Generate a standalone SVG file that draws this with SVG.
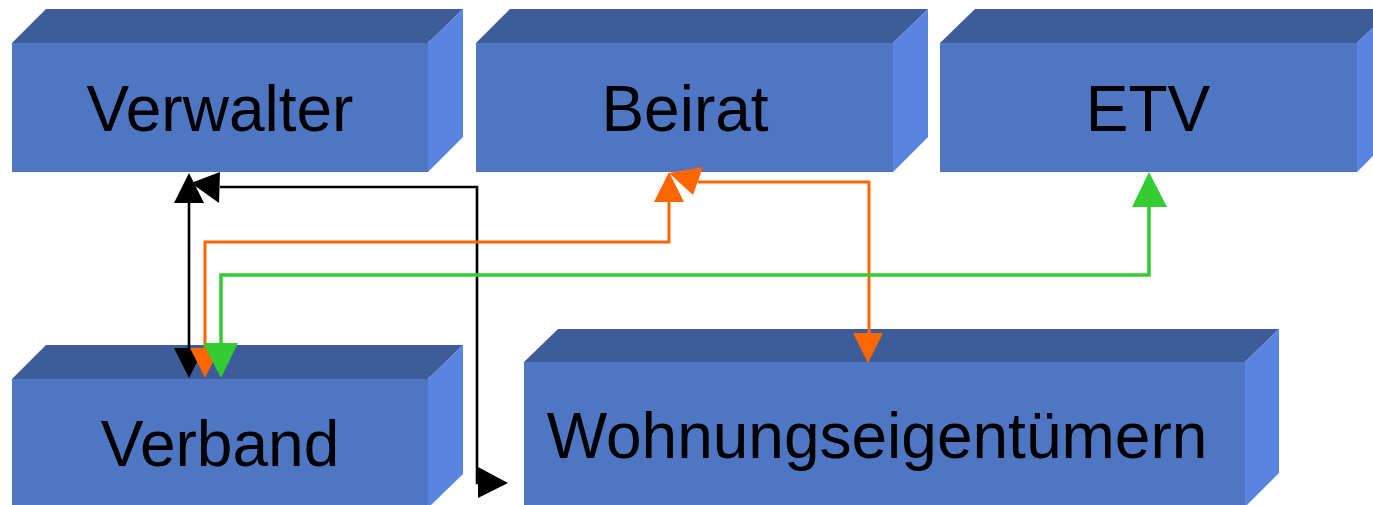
<svg xmlns="http://www.w3.org/2000/svg" width="1373" height="505" viewBox="0 0 1373 505">
<style>
.top{fill:#3E5C9A}
.front{fill:#4E76C3}
.side{fill:#5985E0}
.lbl{font-family:"Liberation Sans",Arial,sans-serif;font-size:64px;fill:#000;text-anchor:middle}
.blk{fill:none;stroke:#000;stroke-width:2.6}
.org{fill:none;stroke:#FF6600;stroke-width:3}
.grn{fill:none;stroke:#33CC33;stroke-width:3.5}
</style>
<rect width="1373" height="505" fill="#fff"/>
<g id="verwalter">
<polygon class="top" points="12,43 46,9 463,9 428,43"/>
<rect class="front" x="12" y="43" width="416" height="129"/>
<polygon class="side" points="428,43 463,9 463,137 428,172"/>
<text class="lbl" x="220" y="131">Verwalter</text>
</g>
<g id="beirat">
<polygon class="top" points="476,43 510,9 928,9 893,43"/>
<rect class="front" x="476" y="43" width="417" height="129"/>
<polygon class="side" points="893,43 928,9 928,137 893,172"/>
<text class="lbl" x="685" y="131">Beirat</text>
</g>
<g id="etv">
<polygon class="top" points="940,43 975,9 1392,9 1357,43"/>
<rect class="front" x="940" y="43" width="417" height="129"/>
<polygon class="side" points="1357,43 1392,9 1392,137 1357,172"/>
<text class="lbl" x="1148" y="131">ETV</text>
</g>
<g id="verband">
<polygon class="top" points="12,379 46,345 463,345 428,379"/>
<rect class="front" x="12" y="379" width="416" height="130"/>
<polygon class="side" points="428,379 463,345 463,474 428,508"/>
<text class="lbl" x="220" y="466">Verband</text>
</g>
<g id="wohnungseigentuemern">
<polygon class="top" points="524,362 558,329 1279,329 1245,362"/>
<rect class="front" x="524" y="362" width="721" height="146"/>
<polygon class="side" points="1245,362 1279,329 1279,473 1245,507"/>
<text class="lbl" x="877" y="458">Wohnungseigentümern</text>
</g>
<g id="connectors">
<path class="blk" d="M189,203 V348"/>
<polygon fill="#000" points="189,173 174,203 204,203"/>
<polygon fill="#000" points="189,378 174,348 204,348"/>
<path class="blk" d="M220,187 H477 V483 H479"/>
<polygon fill="#000" points="220,172 219,203 191,183"/>
<polygon fill="#000" points="508,483 478,467 478,498"/>
<path class="org" d="M205,348 V242 H669 V202"/>
<polygon fill="#FF6600" points="669,172 654,202 684,202"/>
<polygon fill="#FF6600" points="205,378 190,348 220,348"/>
<path class="org" d="M698,182 H869 V333"/>
<polygon fill="#FF6600" points="703,167 693,195 669,173"/>
<polygon fill="#FF6600" points="868,363 853,333 883,333"/>
<path class="grn" d="M221,343 V275 H1149 V207"/>
<polygon fill="#33CC33" points="1149,172 1132,207 1167,207"/>
<polygon fill="#33CC33" points="221,378 203,343 238,343"/>
</g>
</svg>
